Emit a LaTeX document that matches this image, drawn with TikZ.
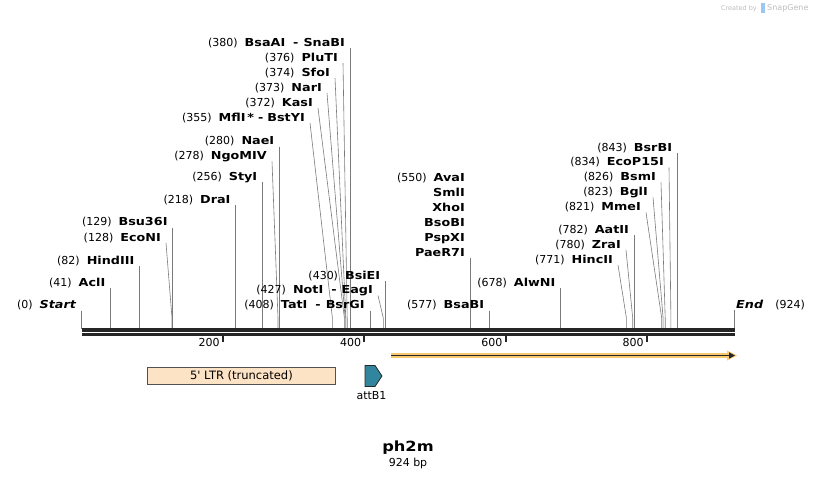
\documentclass[tikz,border=0pt]{standalone}
\usepackage{fontspec}
\setmainfont{DejaVu Sans}[BoldFeatures={FakeStretch=1.16}, BoldItalicFeatures={FakeStretch=1.16}]
\usetikzlibrary{arrows.meta}

\definecolor{cutgray}{HTML}{7A7A7A}
\definecolor{rulerdark}{HTML}{262626}
\definecolor{ltrfill}{HTML}{FDE3C5}
\definecolor{attfill}{HTML}{31859C}
\definecolor{orfband}{HTML}{F8C86F}
\definecolor{wmgray}{HTML}{BDBDBD}
\definecolor{wmblue}{HTML}{9CC8F0}

\tikzset{
  cutline/.style={draw=cutgray, line width=0.6pt},
  sitelbl/.style={anchor=base east, inner sep=0pt, font=\fontsize{11}{13}\selectfont},
  ticklbl/.style={anchor=base east, inner sep=0pt, font=\fontsize{11}{13}\selectfont},
}

\newcommand{\bp}[1]{(#1)\hspace{7pt}}
\newcommand{\enz}[1]{\textbf{#1}}
% name, text, label row y, line top x, cut x
\newcommand{\cutsite}[5]{%
  \node[sitelbl] (#1) at (#4-5,#3+4) {#2};
  \coordinate (#1top) at (#4,#3+6);
  \coordinate (#1bend) at (#5,318);
  \coordinate (#1cut) at (#5,328.5);
  \draw[cutline] (#1top) -- (#1bend) -- (#1cut);
}

\begin{document}
\begin{tikzpicture}[x=1pt, y=-1pt]
  \useasboundingbox (0,0) rectangle (818,479);

  % watermark
  \node[inner sep=0pt, anchor=base east, text=wmgray, font=\fontsize{6.5}{7}\selectfont] (wmby) at (757,10) {Created by};
  \fill[wmblue] (761,3) rectangle (764.5,13);
  \node[inner sep=0pt, anchor=base west, text=wmgray, font=\fontsize{8}{9}\selectfont] (wmsg) at (767,10.5) {SnapGene};

  % left cluster
  \cutsite{SnaBI}{\bp{380}\enz{BsaAI\hspace{8pt}-\hspace{5pt}SnaBI}}{42}{350.1}{350.1}
  \cutsite{PluTI}{\bp{376}\enz{PluTI}}{57}{343}{347.2}
  \cutsite{SfoI}{\bp{374}\enz{SfoI}}{72}{335}{345.8}
  \cutsite{NarI}{\bp{373}\enz{NarI}}{87}{327}{345.1}
  \cutsite{KasI}{\bp{372}\enz{KasI}}{102}{318}{344.4}
  \cutsite{BstYI}{\bp{355}\enz{MflI\,*\hspace{4pt}-\hspace{4pt}BstYI}}{117}{310}{332.4}
  \cutsite{NaeI}{\bp{280}\enz{NaeI}}{140.5}{279.4}{279.4}
  \cutsite{NgoMIV}{\bp{278}\enz{NgoMIV}}{155.5}{272}{278}
  \cutsite{StyI}{\bp{256}\enz{StyI}}{176}{262.4}{262.4}
  \cutsite{DraI}{\bp{218}\enz{DraI}}{199}{235.6}{235.6}
  \cutsite{Bsu36I}{\bp{129}\enz{Bsu36I}}{221.5}{172.7}{172.7}
  \cutsite{EcoNI}{\bp{128}\enz{EcoNI}}{237}{166}{172}
  \cutsite{HindIII}{\bp{82}\enz{HindIII}}{260}{139.5}{139.5}
  \cutsite{AclI}{\bp{41}\enz{AclI}}{282}{110.5}{110.5}
  \cutsite{Start}{\bp{0}\textbf{\textit{Start}}}{304.5}{81.5}{81.5}

  % middle
  \cutsite{BsiEI}{\bp{430}\enz{BsiEI}}{275}{385.4}{385.4}
  \cutsite{EagI}{\bp{427}\enz{NotI\hspace{8pt}-\hspace{5pt}EagI}}{289.5}{378}{383.3}
  \cutsite{BsrGI}{\bp{408}\enz{TatI\hspace{8pt}-\hspace{5pt}BsrGI}}{304.5}{369.8}{369.8}

  \node[sitelbl] (AvaI) at (465,181) {\bp{550}\enz{AvaI}};
  \foreach \enzname [count=\i from 0] in {SmlI,XhoI,BsoBI,PspXI,PaeR7I}
    \node[sitelbl] (\enzname) at (465,196+15*\i) {\enz{\enzname}};
  \coordinate (AvaItop) at (470.2,258);
  \coordinate (AvaIcut) at (470.2,328.5);
  \draw[cutline] (AvaItop) -- (AvaIcut);

  \cutsite{AlwNI}{\bp{678}\enz{AlwNI}}{282}{560.6}{560.6}
  \cutsite{BsaBI}{\bp{577}\enz{BsaBI}}{304.5}{489.3}{489.3}

  % right cluster
  \cutsite{BsrBI}{\bp{843}\enz{BsrBI}}{147}{677.2}{677.2}
  \cutsite{EcoPI}{\bp{834}\enz{EcoP15I}}{161.5}{669}{670.9}
  \cutsite{BsmI}{\bp{826}\enz{BsmI}}{176.5}{661}{665.2}
  \cutsite{BglI}{\bp{823}\enz{BglI}}{191.5}{653}{663.1}
  \cutsite{MmeI}{\bp{821}\enz{MmeI}}{206.5}{646}{661.7}
  \cutsite{AatII}{\bp{782}\enz{AatII}}{229}{634.1}{634.1}
  \cutsite{ZraI}{\bp{780}\enz{ZraI}}{244}{626}{632.7}
  \cutsite{HincII}{\bp{771}\enz{HincII}}{259}{618}{626.4}

  \node[inner sep=0pt, anchor=base west, font=\fontsize{11}{13}\selectfont] (End) at (736,308.5) {\textbf{\textit{End}}\hspace{12pt}(924)};
  \coordinate (Endtop) at (734.5,310);
  \coordinate (Endcut) at (734.5,328.5);
  \draw[cutline] (Endtop) -- (Endcut);

  % ruler
  \coordinate (r0) at (81.5,330);
  \coordinate (r1) at (734.5,330);
  \draw[rulerdark, line width=3.5pt] (r0) -- (r1);
  \draw[rulerdark, line width=2.7pt] ([yshift=-4.7pt]r0) -- ([yshift=-4.7pt]r1);
  \foreach \n/\x in {200/222.8,400/364.2,600/505.5,800/646.9} {
    \draw[rulerdark, line width=2pt] (\x,335) -- (\x,342);
    \node[ticklbl] (t\n) at (\x-3,346) {\n};
  }

  % features
  \coordinate (orfstart) at (391,355.5);
  \coordinate (orfend) at (735,355.5);
  \draw[orfband, line width=5.5pt] (orfstart) -- ([xshift=-4pt]orfend);
  \fill[orfband] ([xshift=-8pt,yshift=-5pt]orfend) -- ([xshift=2pt]orfend) -- ([xshift=-8pt,yshift=5pt]orfend) -- cycle;
  \draw[rulerdark, line width=1.5pt, -{Triangle[length=6pt,width=6pt]}] (orfstart) -- (orfend);

  \node[draw=rulerdark!80, fill=ltrfill, line width=0.8pt, minimum width=188pt, minimum height=17pt, inner sep=0pt,
        anchor=north west, font=\fontsize{11.5}{13}\selectfont] (ltr) at (147,367) {5\textquotesingle{} LTR (truncated)};

  \draw[draw=rulerdark, fill=attfill, line width=0.8pt] (365,365.5) -- (375,365.5) -- (382,376) -- (375,386.5) -- (365,386.5) -- cycle;
  \coordinate (att) at (371.5,386.5);
  \node[inner sep=0pt, anchor=north, font=\fontsize{11}{13}\selectfont] (attlbl) at ([yshift=-5pt]att) {attB1};

  % title
  \node[inner sep=0pt, font=\bfseries\fontsize{14}{16}\selectfont] (title) at (408,448) {ph2m};
  \node[inner sep=0pt, font=\fontsize{11}{13}\selectfont] (size) at (408,463.5) {924 bp};
\end{tikzpicture}
\end{document}
